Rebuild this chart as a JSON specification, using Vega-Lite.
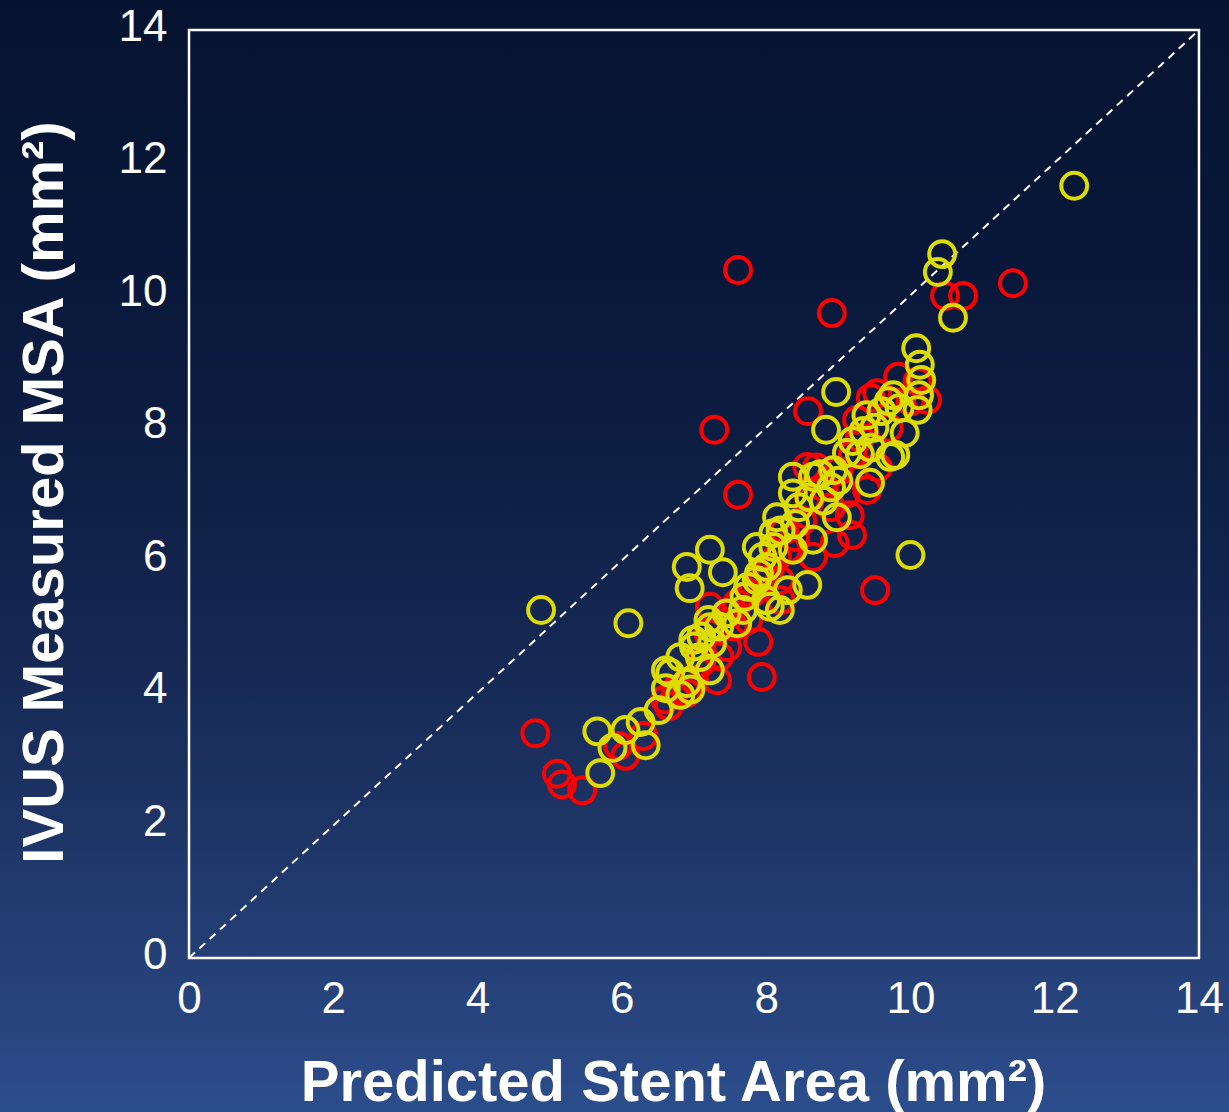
{
  "$schema": "https://vega.github.io/schema/vega-lite/v6.json",
  "width": 1229,
  "height": 1112,
  "padding": 0,
  "autosize": {"type": "none"},
  "background": "#142650",
  "config": {"view": {"stroke": null}},
  "layer": [
    {
      "data": {"values": [{}]},
      "mark": {
        "type": "rect",
        "fill": {
          "gradient": "linear", "x1": 0, "y1": 0, "x2": 0, "y2": 1,
          "stops": [
            {"offset": 0, "color": "#061330"},
            {"offset": 0.25, "color": "#09183a"},
            {"offset": 0.45, "color": "#0f2046"},
            {"offset": 0.6, "color": "#162955"},
            {"offset": 0.75, "color": "#1e3566"},
            {"offset": 0.9, "color": "#27437c"},
            {"offset": 1, "color": "#2c4d8c"}
          ]
        }
      },
      "encoding": {}
    },
    {
      "data": {"values": [{"a": 0, "b": 14}]},
      "mark": {"type": "rect", "filled": false, "stroke": "white", "strokeWidth": 2.5},
      "encoding": {
        "x": {
          "field": "a", "type": "quantitative",
          "scale": {"domain": [-2.62, 14.416], "nice": false, "zero": false},
          "axis": {
            "orient": "bottom", "offset": -154, "values": [0, 2, 4, 6, 8, 10, 12, 14], "format": "d",
            "domain": false, "ticks": false, "tickSize": 0, "grid": false,
            "labelFont": "Liberation Sans", "labelFontSize": 44, "labelColor": "white",
            "labelPadding": 19, "labelFlush": false, "labelOverlap": false,
            "title": "Predicted Stent Area (mm²)", "titleFont": "Liberation Sans", "titleFontSize": 58,
            "titleFontWeight": "bold", "titleColor": "white", "titleX": 673, "titleY": 142,
            "titleAlign": "center", "titleBaseline": "alphabetic", "zindex": 1
          }
        },
        "x2": {"field": "b"},
        "y": {
          "field": "a", "type": "quantitative",
          "scale": {"domain": [-2.323, 14.453], "nice": false, "zero": false},
          "axis": {
            "orient": "left", "offset": -189, "values": [0, 2, 4, 6, 8, 10, 12, 14], "format": "d",
            "domain": false, "ticks": false, "tickSize": 0, "grid": false,
            "labelFont": "Liberation Sans", "labelFontSize": 44, "labelColor": "white",
            "labelPadding": 22, "labelOffset": -3, "labelFlush": false, "labelOverlap": false,
            "title": "IVUS Measured MSA (mm²)", "titleFont": "Liberation Sans", "titleFontSize": 58,
            "titleFontWeight": "bold", "titleColor": "white", "titleX": -127, "titleY": 492,
            "titleAngle": 270, "titleAlign": "center", "titleBaseline": "alphabetic", "zindex": 1
          }
        },
        "y2": {"field": "b"}
      }
    },
    {
      "data": {"values": [{"p": 0}, {"p": 14}]},
      "mark": {"type": "line", "color": "white", "strokeWidth": 2, "strokeDash": [8, 6]},
      "encoding": {
        "x": {"field": "p", "type": "quantitative"},
        "y": {"field": "p", "type": "quantitative"}
      }
    },
    {
      "data": {"values": [
        {"predicted": 4.80, "measured": 3.39, "group": "Group A"},
        {"predicted": 5.10, "measured": 2.78, "group": "Group A"},
        {"predicted": 5.17, "measured": 2.62, "group": "Group A"},
        {"predicted": 5.45, "measured": 2.53, "group": "Group A"},
        {"predicted": 5.95, "measured": 3.20, "group": "Group A"},
        {"predicted": 6.05, "measured": 3.05, "group": "Group A"},
        {"predicted": 6.30, "measured": 3.35, "group": "Group A"},
        {"predicted": 6.60, "measured": 3.90, "group": "Group A"},
        {"predicted": 6.65, "measured": 3.80, "group": "Group A"},
        {"predicted": 6.75, "measured": 4.05, "group": "Group A"},
        {"predicted": 6.90, "measured": 4.00, "group": "Group A"},
        {"predicted": 7.00, "measured": 4.20, "group": "Group A"},
        {"predicted": 7.32, "measured": 4.19, "group": "Group A"},
        {"predicted": 7.10, "measured": 4.45, "group": "Group A"},
        {"predicted": 7.35, "measured": 4.55, "group": "Group A"},
        {"predicted": 7.46, "measured": 4.69, "group": "Group A"},
        {"predicted": 7.20, "measured": 4.90, "group": "Group A"},
        {"predicted": 7.22, "measured": 5.30, "group": "Group A"},
        {"predicted": 7.55, "measured": 5.00, "group": "Group A"},
        {"predicted": 7.50, "measured": 5.20, "group": "Group A"},
        {"predicted": 7.60, "measured": 5.35, "group": "Group A"},
        {"predicted": 7.75, "measured": 5.10, "group": "Group A"},
        {"predicted": 7.89, "measured": 4.77, "group": "Group A"},
        {"predicted": 7.94, "measured": 4.24, "group": "Group A"},
        {"predicted": 7.80, "measured": 5.50, "group": "Group A"},
        {"predicted": 7.95, "measured": 5.70, "group": "Group A"},
        {"predicted": 8.05, "measured": 5.85, "group": "Group A"},
        {"predicted": 8.19, "measured": 5.70, "group": "Group A"},
        {"predicted": 8.20, "measured": 5.40, "group": "Group A"},
        {"predicted": 8.15, "measured": 6.05, "group": "Group A"},
        {"predicted": 8.29, "measured": 6.16, "group": "Group A"},
        {"predicted": 8.25, "measured": 6.45, "group": "Group A"},
        {"predicted": 8.40, "measured": 6.35, "group": "Group A"},
        {"predicted": 8.50, "measured": 6.60, "group": "Group A"},
        {"predicted": 8.60, "measured": 6.90, "group": "Group A"},
        {"predicted": 8.57, "measured": 7.41, "group": "Group A"},
        {"predicted": 8.65, "measured": 6.05, "group": "Group A"},
        {"predicted": 8.70, "measured": 7.40, "group": "Group A"},
        {"predicted": 8.80, "measured": 7.10, "group": "Group A"},
        {"predicted": 8.90, "measured": 6.80, "group": "Group A"},
        {"predicted": 8.95, "measured": 6.26, "group": "Group A"},
        {"predicted": 9.19, "measured": 6.38, "group": "Group A"},
        {"predicted": 9.16, "measured": 6.68, "group": "Group A"},
        {"predicted": 9.40, "measured": 7.06, "group": "Group A"},
        {"predicted": 9.10, "measured": 7.00, "group": "Group A"},
        {"predicted": 9.00, "measured": 7.35, "group": "Group A"},
        {"predicted": 9.20, "measured": 7.60, "group": "Group A"},
        {"predicted": 9.30, "measured": 7.85, "group": "Group A"},
        {"predicted": 9.26, "measured": 8.12, "group": "Group A"},
        {"predicted": 9.55, "measured": 7.40, "group": "Group A"},
        {"predicted": 9.54, "measured": 8.52, "group": "Group A"},
        {"predicted": 9.45, "measured": 8.45, "group": "Group A"},
        {"predicted": 9.70, "measured": 8.00, "group": "Group A"},
        {"predicted": 9.83, "measured": 8.77, "group": "Group A"},
        {"predicted": 10.00, "measured": 8.40, "group": "Group A"},
        {"predicted": 10.23, "measured": 8.42, "group": "Group A"},
        {"predicted": 10.10, "measured": 8.70, "group": "Group A"},
        {"predicted": 7.61, "measured": 10.38, "group": "Group A"},
        {"predicted": 8.91, "measured": 9.73, "group": "Group A"},
        {"predicted": 11.42, "measured": 10.18, "group": "Group A"},
        {"predicted": 10.48, "measured": 9.99, "group": "Group A"},
        {"predicted": 10.73, "measured": 9.99, "group": "Group A"},
        {"predicted": 7.28, "measured": 7.97, "group": "Group A"},
        {"predicted": 7.61, "measured": 6.99, "group": "Group A"},
        {"predicted": 8.58, "measured": 8.25, "group": "Group A"},
        {"predicted": 9.51, "measured": 5.55, "group": "Group A"},
        {"predicted": 4.88, "measured": 5.25, "group": "Group B"},
        {"predicted": 6.09, "measured": 5.05, "group": "Group B"},
        {"predicted": 5.70, "measured": 2.79, "group": "Group B"},
        {"predicted": 5.66, "measured": 3.42, "group": "Group B"},
        {"predicted": 5.87, "measured": 3.17, "group": "Group B"},
        {"predicted": 6.05, "measured": 3.44, "group": "Group B"},
        {"predicted": 6.26, "measured": 3.56, "group": "Group B"},
        {"predicted": 6.33, "measured": 3.21, "group": "Group B"},
        {"predicted": 6.51, "measured": 3.74, "group": "Group B"},
        {"predicted": 6.61, "measured": 4.34, "group": "Group B"},
        {"predicted": 6.61, "measured": 4.07, "group": "Group B"},
        {"predicted": 6.81, "measured": 3.97, "group": "Group B"},
        {"predicted": 6.90, "measured": 5.90, "group": "Group B"},
        {"predicted": 6.94, "measured": 5.58, "group": "Group B"},
        {"predicted": 7.22, "measured": 6.16, "group": "Group B"},
        {"predicted": 7.40, "measured": 5.82, "group": "Group B"},
        {"predicted": 12.27, "measured": 11.65, "group": "Group B"},
        {"predicted": 10.44, "measured": 10.62, "group": "Group B"},
        {"predicted": 10.38, "measured": 10.35, "group": "Group B"},
        {"predicted": 10.59, "measured": 9.66, "group": "Group B"},
        {"predicted": 10.08, "measured": 9.20, "group": "Group B"},
        {"predicted": 10.13, "measured": 8.95, "group": "Group B"},
        {"predicted": 10.15, "measured": 8.72, "group": "Group B"},
        {"predicted": 10.12, "measured": 8.49, "group": "Group B"},
        {"predicted": 10.10, "measured": 8.27, "group": "Group B"},
        {"predicted": 9.92, "measured": 7.92, "group": "Group B"},
        {"predicted": 9.79, "measured": 7.59, "group": "Group B"},
        {"predicted": 8.97, "measured": 8.54, "group": "Group B"},
        {"predicted": 8.83, "measured": 7.97, "group": "Group B"},
        {"predicted": 10.00, "measured": 6.08, "group": "Group B"},
        {"predicted": 9.76, "measured": 8.49, "group": "Group B"},
        {"predicted": 9.39, "measured": 8.19, "group": "Group B"},
        {"predicted": 8.57, "measured": 5.63, "group": "Group B"},
        {"predicted": 8.19, "measured": 5.25, "group": "Group B"},
        {"predicted": 8.05, "measured": 5.30, "group": "Group B"},
        {"predicted": 7.68, "measured": 5.25, "group": "Group B"},
        {"predicted": 7.60, "measured": 5.05, "group": "Group B"},
        {"predicted": 7.22, "measured": 4.99, "group": "Group B"},
        {"predicted": 6.99, "measured": 4.80, "group": "Group B"},
        {"predicted": 6.81, "measured": 4.54, "group": "Group B"},
        {"predicted": 6.67, "measured": 4.30, "group": "Group B"},
        {"predicted": 7.08, "measured": 4.54, "group": "Group B"},
        {"predicted": 7.22, "measured": 4.34, "group": "Group B"},
        {"predicted": 6.90, "measured": 4.15, "group": "Group B"},
        {"predicted": 7.87, "measured": 5.70, "group": "Group B"},
        {"predicted": 8.01, "measured": 5.90, "group": "Group B"},
        {"predicted": 7.87, "measured": 6.20, "group": "Group B"},
        {"predicted": 8.10, "measured": 6.41, "group": "Group B"},
        {"predicted": 8.37, "measured": 6.16, "group": "Group B"},
        {"predicted": 8.15, "measured": 6.65, "group": "Group B"},
        {"predicted": 8.37, "measured": 7.01, "group": "Group B"},
        {"predicted": 8.37, "measured": 7.26, "group": "Group B"},
        {"predicted": 8.65, "measured": 7.26, "group": "Group B"},
        {"predicted": 8.93, "measured": 7.36, "group": "Group B"},
        {"predicted": 9.12, "measured": 7.62, "group": "Group B"},
        {"predicted": 9.44, "measured": 7.17, "group": "Group B"},
        {"predicted": 9.72, "measured": 7.56, "group": "Group B"},
        {"predicted": 8.98, "measured": 6.65, "group": "Group B"},
        {"predicted": 8.65, "measured": 6.31, "group": "Group B"},
        {"predicted": 7.00, "measured": 4.70, "group": "Group B"},
        {"predicted": 7.10, "measured": 4.85, "group": "Group B"},
        {"predicted": 7.25, "measured": 4.75, "group": "Group B"},
        {"predicted": 7.20, "measured": 5.10, "group": "Group B"},
        {"predicted": 7.35, "measured": 5.00, "group": "Group B"},
        {"predicted": 7.45, "measured": 5.20, "group": "Group B"},
        {"predicted": 7.70, "measured": 5.45, "group": "Group B"},
        {"predicted": 7.75, "measured": 5.60, "group": "Group B"},
        {"predicted": 7.90, "measured": 5.80, "group": "Group B"},
        {"predicted": 7.95, "measured": 6.05, "group": "Group B"},
        {"predicted": 8.00, "measured": 5.40, "group": "Group B"},
        {"predicted": 8.10, "measured": 6.20, "group": "Group B"},
        {"predicted": 8.20, "measured": 6.45, "group": "Group B"},
        {"predicted": 8.40, "measured": 6.55, "group": "Group B"},
        {"predicted": 8.45, "measured": 6.80, "group": "Group B"},
        {"predicted": 8.60, "measured": 6.95, "group": "Group B"},
        {"predicted": 8.75, "measured": 7.30, "group": "Group B"},
        {"predicted": 8.80, "measured": 6.90, "group": "Group B"},
        {"predicted": 8.90, "measured": 7.10, "group": "Group B"},
        {"predicted": 9.00, "measured": 7.20, "group": "Group B"},
        {"predicted": 9.20, "measured": 7.80, "group": "Group B"},
        {"predicted": 9.30, "measured": 7.60, "group": "Group B"},
        {"predicted": 9.35, "measured": 7.95, "group": "Group B"},
        {"predicted": 9.45, "measured": 7.70, "group": "Group B"},
        {"predicted": 9.50, "measured": 8.00, "group": "Group B"},
        {"predicted": 9.60, "measured": 8.25, "group": "Group B"},
        {"predicted": 9.70, "measured": 8.40, "group": "Group B"},
        {"predicted": 9.85, "measured": 8.30, "group": "Group B"},
        {"predicted": 6.95, "measured": 4.05, "group": "Group B"},
        {"predicted": 8.30, "measured": 5.55, "group": "Group B"}
      ]},
      "mark": {"type": "point", "shape": "circle", "filled": false, "size": 670, "strokeWidth": 4, "opacity": 1},
      "encoding": {
        "x": {"field": "predicted", "type": "quantitative"},
        "y": {"field": "measured", "type": "quantitative"},
        "color": {
          "field": "group", "type": "nominal",
          "scale": {"domain": ["Group A", "Group B"], "range": ["#ff0000", "#dcdc00"]},
          "legend": null
        }
      }
    }
  ]
}
